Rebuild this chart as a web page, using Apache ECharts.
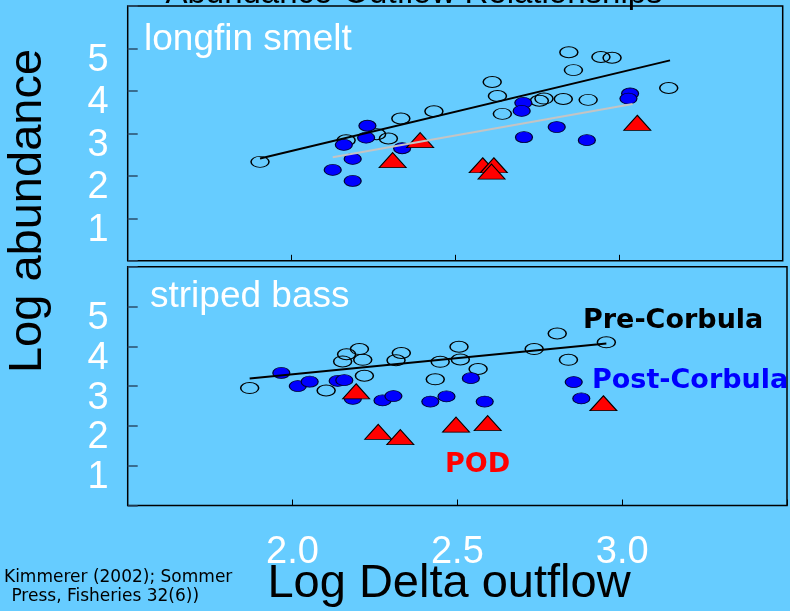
<!DOCTYPE html>
<html>
<head>
<meta charset="utf-8">
<script src="https://cdn.jsdelivr.net/npm/echarts@6/dist/echarts.min.js"></script>
<style>
  html, body { margin: 0; padding: 0; background: #66CCFF; }
  #chart { width: 790px; height: 611px; }
</style>
</head>
<body>
<div id="chart"></div>
<script>
// axis settings (log delta outflow / log abundance)
var xMin = 1.5, xMax = 3.5, xStep = 0.5;
var yMin = 0, yMax = 6, yStep = 1;
var xTickLabels = ['2.0', '2.5', '3.0'];
var yTickLabels = ['1', '2', '3', '4', '5'];

// longfin smelt
var smeltPre = [[1.904,2.33],[2.167,2.84],[2.260,2.98],[2.296,2.88],[2.334,3.35],[2.435,3.52],
  [2.613,4.21],[2.629,3.88],[2.644,3.46],[2.757,3.77],[2.771,3.82],[2.830,3.81],[2.847,4.91],
  [2.861,4.49],[2.906,3.79],[2.945,4.80],[2.979,4.78],[3.152,4.07]];
var smeltPost = [[2.126,2.14],[2.187,1.88],[2.187,2.40],[2.160,2.73],[2.232,3.18],[2.228,2.90],
  [2.338,2.65],[2.708,3.72],[2.703,3.53],[2.710,2.91],[2.810,3.15],[2.902,2.84],[3.034,3.94],[3.029,3.82]];
var smeltPod = [[2.393,2.84],[2.309,2.37],[2.584,2.25],[2.618,2.25],[2.611,2.10],[3.056,3.25]];
var smeltPreFit = [[1.904,2.41],[3.156,4.72]];
var smeltPostFit = [[2.126,2.44],[3.042,3.69]];

// striped bass
var bassPre = [[1.870,2.95],[2.102,2.89],[2.152,3.62],[2.164,3.80],[2.203,3.93],[2.213,3.66],
  [2.218,3.26],[2.314,3.65],[2.330,3.83],[2.433,3.17],[2.448,3.61],[2.505,3.99],[2.509,3.67],
  [2.563,3.43],[2.733,3.93],[2.803,4.32],[2.837,3.66],[2.952,4.10]];
var bassPost = [[1.966,3.33],[2.016,3.00],[2.052,3.11],[2.137,3.13],[2.157,3.15],[2.183,2.68],
  [2.273,2.64],[2.306,2.75],[2.418,2.61],[2.467,2.74],[2.541,3.20],[2.583,2.61],[2.853,3.10],[2.876,2.69]];
var bassPod = [[2.193,2.87],[2.260,1.85],[2.327,1.72],[2.496,2.03],[2.592,2.07],[2.943,2.57]];
var bassPreFit = [[1.870,3.19],[2.952,4.07]];

var chart = echarts.init(document.getElementById('chart'));
var sans = 'Liberation Sans, Arial, sans-serif';
var bold = 'DejaVu Sans, sans-serif';

function xAxisFor(idx, showLabels) {
  return {
    gridIndex: idx, type: 'value', min: xMin, max: xMax, interval: xStep,
    axisLine: { show: false },
    axisTick: { inside: true, length: 6, lineStyle: { color: '#000', width: 1 } },
    splitLine: { show: false },
    axisLabel: {
      show: showLabels, margin: 28, color: '#fff', fontSize: 38, fontFamily: sans,
      formatter: function (v) {
        var s = v.toFixed(1);
        return xTickLabels.indexOf(s) >= 0 ? s : '';
      }
    }
  };
}
function yAxisFor(idx) {
  return {
    gridIndex: idx, type: 'value', min: yMin, max: yMax, interval: yStep,
    axisLine: { show: false },
    axisTick: { inside: true, length: 10, lineStyle: { color: '#2b4d6b', width: 1.5 } },
    splitLine: { show: false },
    axisLabel: {
      margin: 19, color: '#fff', fontSize: 38, fontFamily: sans,
      verticalAlign: 'top', lineHeight: 24,
      formatter: function (v) {
        var s = String(v);
        return yTickLabels.indexOf(s) >= 0 ? s : '';
      }
    }
  };
}

function openDots(data, idx) {
  return { type: 'scatter', xAxisIndex: idx, yAxisIndex: idx, data: data,
    symbol: 'circle', symbolSize: [18, 11],
    itemStyle: { color: 'rgba(0,0,0,0)', borderColor: '#000', borderWidth: 1.2, opacity: 1 } };
}
function blueDots(data, idx) {
  return { type: 'scatter', xAxisIndex: idx, yAxisIndex: idx, data: data,
    symbol: 'circle', symbolSize: [17, 11],
    itemStyle: { color: '#0000FF', borderColor: '#000033', borderWidth: 1, opacity: 1 } };
}
function podMarks(data, idx) {
  return { type: 'scatter', xAxisIndex: idx, yAxisIndex: idx, data: data,
    symbol: 'triangle', symbolSize: [27, 15],
    itemStyle: { color: '#FF0000', borderColor: '#000', borderWidth: 1, opacity: 1 } };
}
function fitLine(data, idx, color) {
  return { type: 'line', xAxisIndex: idx, yAxisIndex: idx, data: data,
    symbol: 'none', lineStyle: { color: color, width: 2 } };
}

var option = {
  backgroundColor: '#66CCFF',
  animation: false,
  grid: [
    { left: 127.7, top: 6, width: 655, height: 254.8, show: true,
      borderColor: '#000', borderWidth: 1.5, backgroundColor: 'transparent' },
    { left: 127.7, top: 266.7, width: 661, height: 238.8, show: true,
      borderColor: '#000', borderWidth: 1.5, backgroundColor: 'transparent' }
  ],
  xAxis: [xAxisFor(0, false), xAxisFor(1, true)],
  yAxis: [yAxisFor(0), yAxisFor(1)],
  series: [
    openDots(smeltPre, 0),
    fitLine(smeltPreFit, 0, '#000'),
    blueDots(smeltPost, 0),
    fitLine(smeltPostFit, 0, '#c4c4c4'),
    podMarks(smeltPod, 0),
    openDots(bassPre, 1),
    fitLine(bassPreFit, 1, '#000'),
    blueDots(bassPost, 1),
    podMarks(bassPod, 1)
  ],
  graphic: [
    { type: 'text', x: 414, y: -6.5, style: { text: 'Abundance-Outflow Relationships',
      fill: '#000', font: '33px ' + sans, align: 'center', verticalAlign: 'middle' } },
    { type: 'text', x: 144, y: 40, style: { text: 'longfin smelt',
      fill: '#fff', font: '37px ' + sans, align: 'left', verticalAlign: 'middle' } },
    { type: 'text', x: 150, y: 297, style: { text: 'striped bass',
      fill: '#fff', font: '37px ' + sans, align: 'left', verticalAlign: 'middle' } },
    { type: 'text', x: 583, y: 321, style: { text: 'Pre-Corbula',
      fill: '#000', font: 'bold 27px ' + bold, align: 'left', verticalAlign: 'middle' } },
    { type: 'text', x: 592, y: 381, style: { text: 'Post-Corbula',
      fill: '#0000FF', font: 'bold 27px ' + bold, align: 'left', verticalAlign: 'middle' } },
    { type: 'text', x: 445, y: 465, style: { text: 'POD',
      fill: '#FF0000', font: 'bold 27px ' + bold, align: 'left', verticalAlign: 'middle' } },
    { type: 'text', x: 28, y: 211, rotation: Math.PI / 2, style: { text: 'Log abundance',
      fill: '#000', font: '47px ' + sans, align: 'center', verticalAlign: 'middle' } },
    { type: 'text', x: 449, y: 584, style: { text: 'Log Delta outflow',
      fill: '#000', font: '47px ' + sans, align: 'center', verticalAlign: 'middle' } },
    { type: 'text', x: 4, y: 578, style: { text: 'Kimmerer (2002); Sommer',
      fill: '#000', font: '17px ' + bold, align: 'left', verticalAlign: 'middle' } },
    { type: 'text', x: 6, y: 597, style: { text: ' Press, Fisheries 32(6))',
      fill: '#000', font: '17px ' + bold, align: 'left', verticalAlign: 'middle' } }
  ]
};
chart.setOption(option);
</script>
</body>
</html>
